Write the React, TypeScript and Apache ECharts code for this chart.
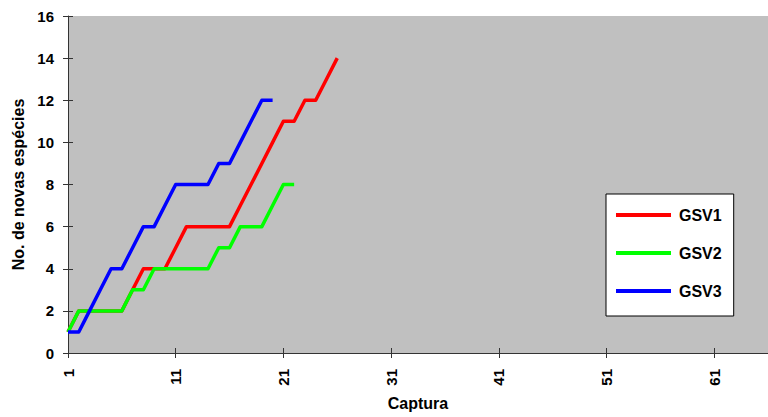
import React, { useEffect, useRef } from "react";
import * as echarts from "echarts";

// Capture number (1..66) along the horizontal axis
const capturas: string[] = Array.from({ length: 66 }, (_, i) => String(i + 1));

// Cumulative count of new species per capture
const gsv1: number[] = [1, 2, 2, 2, 2, 2, 3, 4, 4, 4, 5, 6, 6, 6, 6, 6, 7, 8, 9, 10, 11, 11, 12, 12, 13, 14];
const gsv2: number[] = [1, 2, 2, 2, 2, 2, 3, 3, 4, 4, 4, 4, 4, 4, 5, 5, 6, 6, 6, 7, 8, 8];
const gsv3: number[] = [1, 1, 2, 3, 4, 4, 5, 6, 6, 7, 8, 8, 8, 8, 9, 9, 10, 11, 12, 12];

const seriesNames = ["GSV1", "GSV2", "GSV3"];
const seriesColors = ["#FF0000", "#00FF00", "#0000FF"];

const FONT = "'Liberation Sans', Arial, sans-serif";
const AXIS_COLOR = "#333333";

export default function App() {
  const ref = useRef<HTMLDivElement>(null);

  useEffect(() => {
    if (!ref.current) return;
    const chart = echarts.init(ref.current, undefined, { renderer: "svg" });
    const data = [gsv1, gsv2, gsv3];

    chart.setOption({
      animation: false,
      grid: {
        left: 68,
        right: -3,
        top: 16,
        bottom: 64,
        show: true,
        backgroundColor: "#C0C0C0",
        borderWidth: 0,
      },
      legend: {
        orient: "vertical",
        left: 606,
        top: 194,
        data: seriesNames,
        icon: "rect",
        itemWidth: 55,
        itemHeight: 4,
        itemGap: 22,
        padding: [13, 12, 17, 10],
        backgroundColor: "#FFFFFF",
        borderColor: "#000000",
        borderWidth: 1,
        borderRadius: 0,
        textStyle: {
          fontFamily: FONT,
          fontWeight: "bold",
          fontSize: 16,
          lineHeight: 16,
          color: "#000000",
          padding: [0, 0, 0, 3],
        },
      },
      xAxis: [
        {
          type: "category",
          data: capturas,
          boundaryGap: false,
          name: "Captura",
          nameLocation: "middle",
          nameGap: 42,
          nameTextStyle: { fontFamily: FONT, fontWeight: "bold", fontSize: 16, color: "#000" },
          axisLine: { lineStyle: { color: AXIS_COLOR, width: 1 } },
          axisTick: { interval: 9, length: 5, lineStyle: { color: AXIS_COLOR } },
          axisLabel: {
            interval: 9,
            rotate: 90,
            margin: 16,
            fontFamily: FONT,
            fontWeight: "bold",
            fontSize: 15,
            color: "#000",
          },
          splitLine: { show: false },
        },
        {
          type: "category",
          data: capturas,
          boundaryGap: false,
          position: "bottom",
          axisLine: { show: false },
          axisTick: { inside: true, interval: 9, length: 5, lineStyle: { color: AXIS_COLOR } },
          axisLabel: { show: false },
          splitLine: { show: false },
        },
      ],
      yAxis: [
        {
          type: "value",
          min: 0,
          max: 16,
          interval: 2,
          name: "No. de novas espécies",
          nameLocation: "middle",
          nameGap: 38,
          nameTextStyle: { fontFamily: FONT, fontWeight: "bold", fontSize: 16, color: "#000" },
          axisLine: { show: true, lineStyle: { color: AXIS_COLOR, width: 1 } },
          axisTick: { show: true, length: 5, lineStyle: { color: AXIS_COLOR } },
          axisLabel: { margin: 14, fontFamily: FONT, fontWeight: "bold", fontSize: 15, color: "#000" },
          splitLine: { show: false },
        },
        {
          type: "value",
          min: 0,
          max: 16,
          interval: 2,
          position: "left",
          axisLine: { show: false },
          axisTick: { show: true, inside: true, length: 5, lineStyle: { color: AXIS_COLOR } },
          axisLabel: { show: false },
          splitLine: { show: false },
        },
      ],
      series: seriesNames.map((name, i) => ({
        name,
        type: "line",
        data: data[i],
        symbol: "none",
        color: seriesColors[i],
        lineStyle: { color: seriesColors[i], width: 3.5, join: "round" },
        z: 2 + i,
      })),
    });

    return () => chart.dispose();
  }, []);

  return (
    <div
      ref={ref}
      style={{ position: "absolute", left: 0, top: 0, width: 768, height: 417, background: "#FFFFFF" }}
    />
  );
}
